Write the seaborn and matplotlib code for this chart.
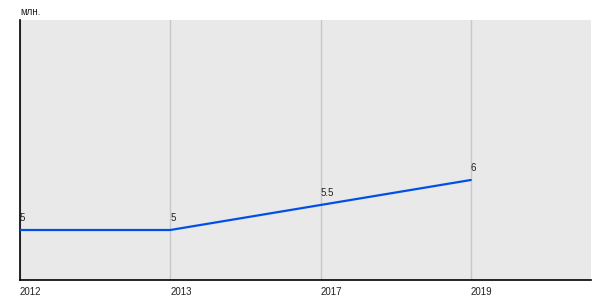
import matplotlib
matplotlib.use("Agg")
import matplotlib.pyplot as plt
import seaborn as sns
import pandas as pd

years = ["2012", "2013", "2017", "2019"]
values = [5, 5, 5.5, 6]
labels = ["5", "5", "5.5", "6"]
unit = "млн."

sns.set_theme(style="white")
plt.rcParams['font.family'] = ['Liberation Sans', 'DejaVu Sans']

df = pd.DataFrame({"year": years, "value": values})

fig = plt.figure(figsize=(6, 3), dpi=100)
ax = fig.add_axes([20/600, 20/300, 571/600, 260/300])
ax.set_facecolor("#e9e9e9")

sns.lineplot(data=df, x="year", y="value", ax=ax, color="#0050e6", linewidth=1.6, zorder=3)

ax.set_xlim(0, 3.8)
ax.set_ylim(4, 9.2)
ax.set_xticks(range(len(years)))
ax.set_xticklabels(years, ha="left", fontsize=7, color="#222222")
ax.tick_params(axis="x", length=0, pad=5)
ax.set_yticks([])
ax.set_xlabel("")
ax.set_ylabel("")
ax.grid(axis="x", color="#c8c8c8", linewidth=1, zorder=0)
ax.set_axisbelow(True)

for s in ["top", "right"]:
    ax.spines[s].set_visible(False)
for s in ["left", "bottom"]:
    ax.spines[s].set_color("black")
    ax.spines[s].set_linewidth(1.2)

for i, (v, lab) in enumerate(zip(values, labels)):
    ax.annotate(lab, (i, v), xytext=(0, 5), textcoords="offset points",
                ha="left", va="bottom", fontsize=7, color="#222222")

fig.text(20/600, 1 - 12/300, unit, ha="left", va="center", fontsize=7, color="#222222")

fig.savefig("out.png", dpi=100)
